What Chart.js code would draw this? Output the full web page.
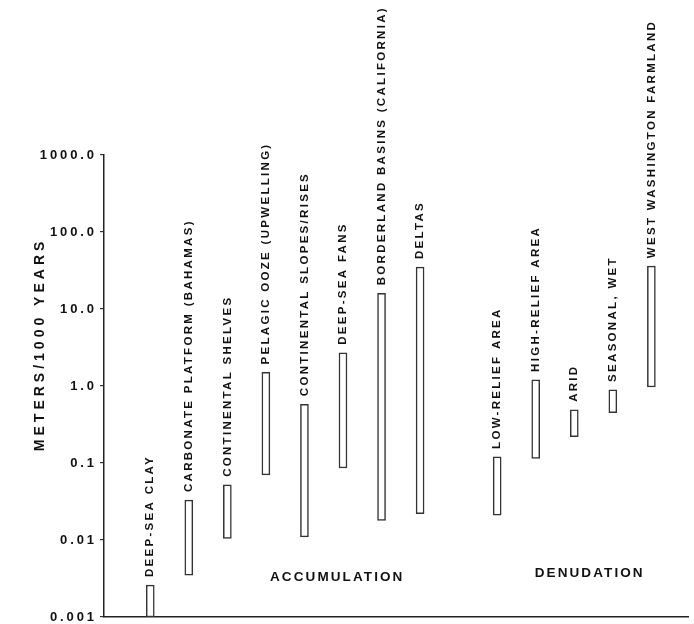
<!DOCTYPE html>
<html>
<head>
<meta charset="utf-8">
<script src="https://cdn.jsdelivr.net/npm/chart.js@4/dist/chart.umd.min.js"></script>
<style>
  html, body { margin: 0; padding: 0; background: #fff; }
  #wrap { width: 694px; height: 624px; }
</style>
</head>
<body>
<div id="wrap"><canvas id="rateChart"></canvas></div>
<script>
// environments, left to right (slot 9 is the gap between the two groups)
var sites = [
    "DEEP-SEA CLAY",
    "CARBONATE PLATFORM (BAHAMAS)",
    "CONTINENTAL SHELVES",
    "PELAGIC OOZE (UPWELLING)",
    "CONTINENTAL SLOPES/RISES",
    "DEEP-SEA FANS",
    "BORDERLAND BASINS (CALIFORNIA)",
    "DELTAS",
    "LOW-RELIEF AREA",
    "HIGH-RELIEF AREA",
    "ARID",
    "SEASONAL, WET",
    "WEST WASHINGTON FARMLAND"
];
var slots = [1, 2, 3, 4, 5, 6, 7, 8, 10, 11, 12, 13, 14];
// meters / 1000 years
var lows  = [0.001, 0.0035, 0.0105, 0.07, 0.011, 0.086, 0.018, 0.022, 0.021, 0.115, 0.22, 0.45, 0.97];
var highs = [0.0026, 0.033, 0.052, 1.5, 0.58, 2.7, 16, 35, 0.12, 1.2, 0.49, 0.89, 36];

var groups = ["ACCUMULATION", "DENUDATION"];
var groupX = [5.85, 12.4];
var groupY = [0.0033, 0.0037];

var yTicks = [0.001, 0.01, 0.1, 1, 10, 100, 1000];
var yTickLabels = ["0.001", "0.01", "0.1", "1.0", "10.0", "100.0", "1000.0"];
var yTitle = "METERS/1000 YEARS";

var ink = '#111111';
var FONT = '"Liberation Sans", Arial, Helvetica, sans-serif';

var points = slots.map(function (s, i) {
    return { x: s, y: [lows[i], highs[i]] };
});

// letter spacing for all the hand-lettered text
var spacing = {
    id: 'spacing',
    beforeDraw: function (chart) { chart.ctx.letterSpacing = '2.9px'; },
    afterDraw: function (chart) { chart.ctx.letterSpacing = '0px'; }
};

// rotated names over the bars, group names and the y title
var annotate = {
    id: 'annotate',
    afterDatasetsDraw: function (chart) {
        var ctx = chart.ctx;
        var meta = chart.getDatasetMeta(0);
        var xs = chart.scales.x, ys = chart.scales.y;
        ctx.save();
        ctx.fillStyle = ink;

        ctx.font = 'bold 11.5px ' + FONT;
        ctx.letterSpacing = '2.3px';
        ctx.textAlign = 'left';
        ctx.textBaseline = 'middle';
        meta.data.forEach(function (bar, i) {
            var top = Math.min(bar.y, bar.base);
            ctx.save();
            ctx.translate(bar.x, top - 8);
            ctx.rotate(-Math.PI / 2);
            ctx.fillText(sites[i], 0, 0);
            ctx.restore();
        });

        ctx.font = 'bold 13.5px ' + FONT;
        ctx.letterSpacing = '2.1px';
        ctx.textAlign = 'center';
        groups.forEach(function (g, i) {
            ctx.fillText(g, xs.getPixelForValue(groupX[i]), ys.getPixelForValue(groupY[i]));
        });

        var area = chart.chartArea;
        ctx.font = 'bold 14px ' + FONT;
        ctx.letterSpacing = '4px';
        ctx.save();
        ctx.translate(40, area.top + (area.bottom - area.top) * 0.41);
        ctx.rotate(-Math.PI / 2);
        ctx.fillText(yTitle, 0, 0);
        ctx.restore();

        ctx.restore();
    }
};

var ctx = document.getElementById('rateChart').getContext('2d');
var chart = new Chart(ctx, {
    type: 'bar',
    data: {
        datasets: [{
            data: points,
            backgroundColor: '#ffffff',
            borderColor: '#333333',
            borderWidth: 1.5,
            borderSkipped: false,
            barThickness: 8
        }]
    },
    options: {
        responsive: true,
        maintainAspectRatio: false,
        animation: false,
        layout: { padding: { left: 0, right: 6, top: 155, bottom: 7 } },
        plugins: {
            legend: { display: false },
            tooltip: { enabled: false }
        },
        scales: {
            x: {
                type: 'linear',
                offset: false,
                min: -0.2,
                max: 14.95,
                ticks: { display: false },
                grid: { drawOnChartArea: false, drawTicks: false, offset: false },
                border: { display: true, color: '#222', width: 1.5 },
                afterFit: function (s) { s.height = 0; }
            },
            y: {
                type: 'logarithmic',
                min: 0.001,
                max: 1000,
                afterBuildTicks: function (s) {
                    s.ticks = yTicks.map(function (v) { return { value: v }; });
                },
                ticks: {
                    autoSkip: false,
                    padding: 3,
                    color: ink,
                    font: { family: FONT, size: 13, weight: 'bold' },
                    callback: function (v, i) { return yTickLabels[i]; }
                },
                grid: { drawOnChartArea: false, drawTicks: true, tickLength: 4, color: '#333', lineWidth: 1.2 },
                border: { display: true, color: '#222', width: 1.5 },
                afterFit: function (s) {
                    s.width = 104;
                    s.paddingTop = 0;
                    s.paddingBottom = 0;
                }
            }
        }
    },
    plugins: [spacing, annotate]
});
</script>
</body>
</html>
